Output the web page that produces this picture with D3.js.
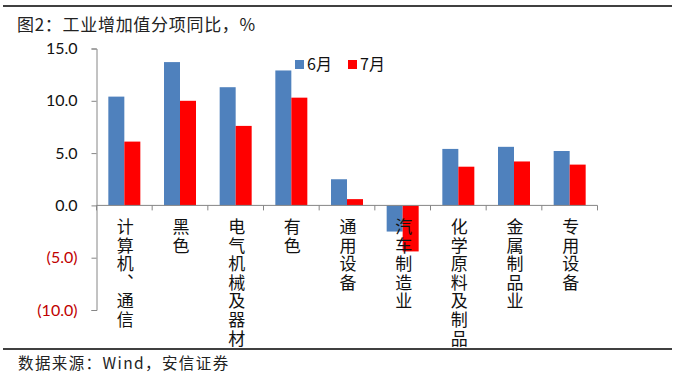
<!DOCTYPE html>
<html lang="zh">
<head>
    <meta charset="utf-8">
    <title>工业增加值分项同比</title>
    <style>
        body { margin: 0; background: #fff; }
        text { font-family: "Noto Sans CJK SC", sans-serif; }
        .num { font-family: Lato, "Liberation Sans", sans-serif; }
        .vert { writing-mode: vertical-rl; text-orientation: upright; }
    </style>
    <script src="https://d3js.org/d3.v7.min.js"></script>
</head>
<body>
    <script>
        // data
        const categories = ["计算机、通信", "黑色", "电气机械及器材", "有色", "通用设备",
                            "汽车制造业", "化学原料及制品", "金属制品业", "专用设备"];
        const seriesNames = ["6月", "7月"];
        const june = [10.4, 13.7, 11.3, 12.9, 2.5, -2.5, 5.4, 5.6, 5.2];
        const july = [6.1, 10.0, 7.6, 10.3, 0.6, -4.4, 3.7, 4.2, 3.9];
        const yTicks = [15, 10, 5, 0, -5, -10];
        const colors = ["#4F81BD", "#FF0000"];

        const W = 677, H = 376;
        const svg = d3.select("body").append("svg")
            .attr("width", W).attr("height", H);

        // frame lines + title + source
        svg.append("line").attr("x1", 3).attr("x2", 672).attr("y1", 6).attr("y2", 6)
            .attr("stroke", "#000").attr("stroke-width", 1.5);
        svg.append("line").attr("x1", 3).attr("x2", 672).attr("y1", 349).attr("y2", 349)
            .attr("stroke", "#000").attr("stroke-width", 1.5);
        svg.append("text").attr("x", 17).attr("y", 31)
            .attr("font-size", 17).attr("letter-spacing", 0.7).attr("fill", "#222")
            .text("图2：工业增加值分项同比，%");
        svg.append("text").attr("x", 18).attr("y", 369)
            .attr("font-size", 15.5).attr("letter-spacing", 1.4).attr("fill", "#222")
            .text("数据来源：Wind，安信证券");

        // scales
        const y = d3.scaleLinear().domain([-10, 15]).range([310, 48.5]);
        const x0 = d3.scaleBand().domain(categories).range([96.5, 597.5]);
        const bw = 16;

        // y axis
        const yAxis = svg.append("g").attr("transform", "translate(96.5,0)")
            .call(d3.axisLeft(y).tickValues(yTicks).tickSize(5).tickPadding(14)
                .tickFormat(d => d < 0 ? "(" + d3.format(".1f")(-d) + ")" : d3.format(".1f")(d)));
        yAxis.select(".domain").attr("stroke", "#868686");
        yAxis.selectAll(".tick line").attr("stroke", "#868686");
        yAxis.selectAll(".tick text")
            .attr("class", "num")
            .attr("font-size", 16)
            .attr("fill", d => d < 0 ? "#C00000" : "#111");

        // bars
        const data = [june, july];
        data.forEach((vals, s) => {
            svg.append("g").selectAll("rect")
                .data(vals)
                .join("rect")
                .attr("x", (d, i) => x0(categories[i]) + x0.bandwidth() / 2 - bw + s * bw)
                .attr("y", d => y(Math.max(0, d)))
                .attr("width", bw)
                .attr("height", d => Math.abs(y(d) - y(0)))
                .attr("fill", colors[s]);
        });

        // x axis at zero
        const xAxis = svg.append("g").attr("transform", `translate(0,${y(0)})`);
        xAxis.append("line").attr("x1", 96.5).attr("x2", 597.5)
            .attr("stroke", "#868686");
        xAxis.selectAll(".tk")
            .data(categories.concat(["end"]))
            .join("line")
            .attr("x1", (d, i) => 96.5 + i * x0.step())
            .attr("x2", (d, i) => 96.5 + i * x0.step())
            .attr("y1", 0).attr("y2", 5)
            .attr("stroke", "#868686");

        // vertical category labels
        svg.append("g").selectAll("text")
            .data(categories)
            .join("text")
            .attr("class", "vert")
            .attr("x", c => x0(c) + x0.bandwidth() / 2 + 1)
            .attr("y", 218)
            .attr("font-size", 17)
            .attr("letter-spacing", 1.6)
            .attr("fill", "#111")
            .text(c => c);

        // legend
        const leg = svg.append("g").attr("transform", "translate(295,60)");
        seriesNames.forEach((n, i) => {
            const g = leg.append("g").attr("transform", `translate(${i * 53},0)`);
            g.append("rect").attr("width", 9).attr("height", 9).attr("fill", colors[i]);
            g.append("text").attr("x", 12).attr("y", 10).attr("font-size", 16)
                .attr("fill", "#111").text(n);
        });
    </script>
</body>
</html>
